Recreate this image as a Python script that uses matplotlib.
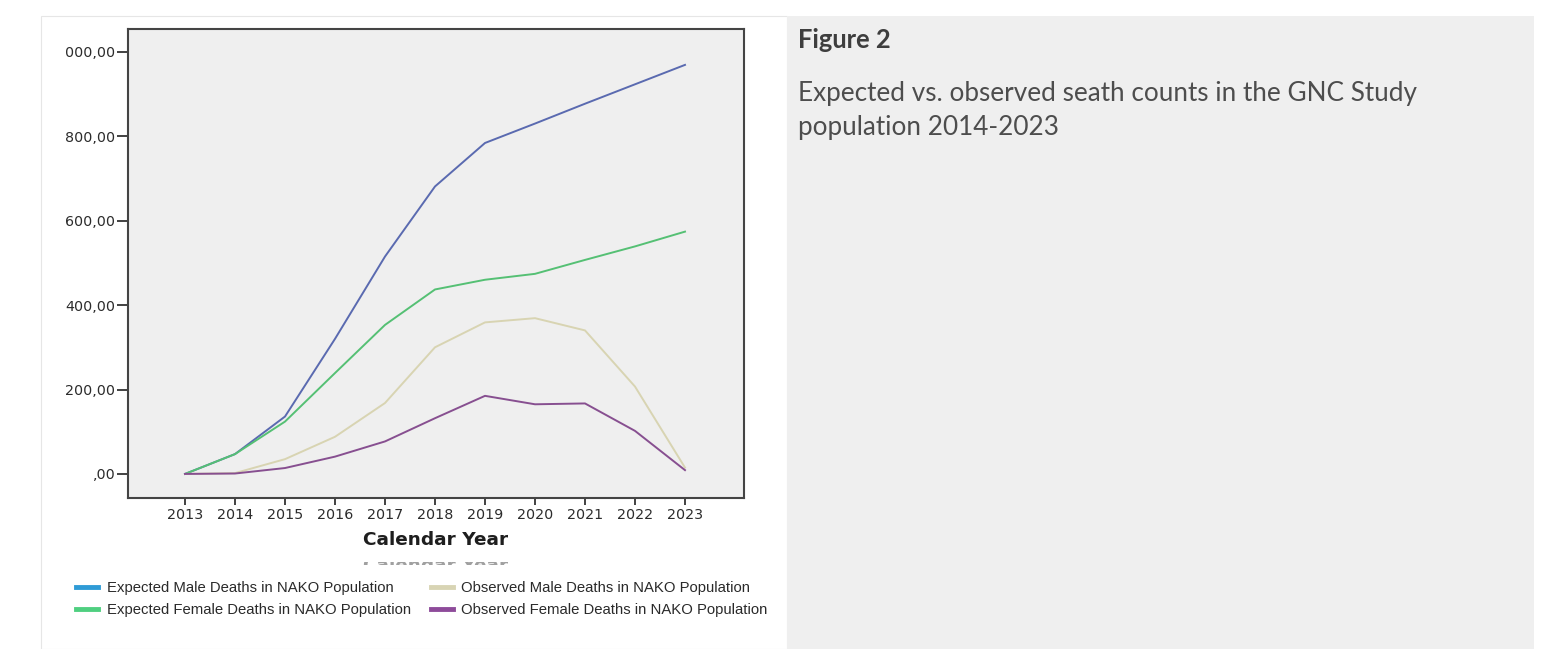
import matplotlib
matplotlib.use("Agg")
import matplotlib.pyplot as plt
from matplotlib.patches import Rectangle
from matplotlib.lines import Line2D

# ── data ──────────────────────────────────────────────────────────────────
years = [2013, 2014, 2015, 2016, 2017, 2018, 2019, 2020, 2021, 2022, 2023]

exp_male   = [0, 47, 136, 320, 515, 681, 784, 830, 877, 923, 969]
exp_female = [0, 47, 124, 239, 353, 437, 460, 474, 507, 539, 574]
obs_male   = [0, 2, 35, 88, 168, 300, 359, 369, 340, 207, 15]
obs_female = [0, 1, 14, 41, 77, 132, 185, 165, 167, 102, 9]

series_labels = [
    "Expected Male Deaths in NAKO Population",
    "Expected Female Deaths in NAKO Population",
    "Observed Male Deaths in NAKO Population",
    "Observed Female Deaths in NAKO Population",
]

y_ticks = [0, 200, 400, 600, 800, 1000]
y_tick_labels = [",00", "200,00", "400,00", "600,00", "800,00", "000,00"]

fig_title = "Figure 2"
caption_lines = ["Expected vs. observed seath counts in the GNC Study",
                 "population 2014-2023"]

# line colours in the plot and (brighter) colours in the legend
LINE_COLORS   = ["#5a6ab0", "#55c074", "#d8d4b2", "#874f90"]
LEGEND_COLORS = ["#2f9bd6", "#4fcf80", "#d8d4b4", "#8e4b9a"]

W, H = 1547, 649


def fx(x):
    return x / W


def fy(y):
    return 1 - y / H


fig = plt.figure(figsize=(W / 100, H / 100), dpi=100)
fig.patch.set_facecolor("white")

# panels (behind everything)
fig.patches.append(Rectangle((fx(41), 0), fx(787) - fx(41), fy(16),
                             transform=fig.transFigure, facecolor="white",
                             edgecolor="#e6e6e6", linewidth=0.8, zorder=-5))
fig.patches.append(Rectangle((fx(787), 0), fx(1534) - fx(787), fy(16),
                             transform=fig.transFigure, facecolor="#efefef",
                             edgecolor="none", zorder=-5))

# ── chart ────────────────────────────────────────────────────────────────
ax = fig.add_axes([fx(128), fy(498), fx(744) - fx(128), fy(29) - fy(498)])
ax.set_zorder(2)
ax.set_facecolor("#efefef")

for vals, col in zip([exp_male, exp_female, obs_male, obs_female], LINE_COLORS):
    ax.plot(years, vals, color=col, linewidth=1.4, solid_joinstyle="round")

ax.set_xlim(2011.86, 2024.18)
ax.set_ylim(-57, 1054)
ax.set_xticks(years)
ax.set_xticklabels([str(y) for y in years])
ax.set_yticks(y_ticks)
ax.set_yticklabels(y_tick_labels)
ax.tick_params(axis="y", length=8, width=1.3, color="#333333", pad=1,
               labelsize=10.3, labelcolor="#2c2c2c")
ax.tick_params(axis="x", length=5, width=1.3, color="#333333", pad=2.5,
               labelsize=10.3, labelcolor="#2c2c2c")
for lab in ax.get_xticklabels() + ax.get_yticklabels():
    lab.set_family("DejaVu Sans")
for sp in ax.spines.values():
    sp.set_color("#444444")
    sp.set_linewidth(1.5)

fig.text(fx(436), fy(540), "Calendar Year", ha="center", va="center",
         family="DejaVu Sans", fontweight="bold", fontsize=13.3,
         color="#1e1e1e")

# cut-off copy of the axis title (artefact in the original image)
ghost = fig.text(fx(436), fy(557), "Calendar Year", ha="center", va="top",
                 family="DejaVu Sans", fontweight="bold", fontsize=13.3,
                 color="#a0a0a0")
clip = Rectangle((fx(300), fy(565)), fx(600) - fx(300), fy(562) - fy(565),
                 transform=fig.transFigure, visible=False)
fig.patches.append(clip)
ghost.set_clip_path(clip)
ghost.set_clip_on(True)

handles = [Line2D([], [], color=c, linewidth=3.5) for c in LEGEND_COLORS]
fig.legend(handles, series_labels, loc="upper left",
           bbox_to_anchor=(fx(76), fy(581)), ncol=2, frameon=False,
           prop={"family": "Liberation Sans", "size": 10.75},
           labelcolor="#2a2a2a", handlelength=1.45, handletextpad=0.6,
           columnspacing=1.35, labelspacing=0.55, borderpad=0,
           borderaxespad=0)

# ── caption panel ───────────────────────────────────────────────────────
fig.text(fx(798), fy(48), fig_title, ha="left", va="baseline",
         family="Lato", fontweight="bold", fontsize=18.4, color="#3e3e3e")
fig.text(fx(798), fy(101), caption_lines[0], ha="left", va="baseline",
         family="Lato", fontsize=18.8, color="#4d4d4d")
fig.text(fx(798), fy(135), caption_lines[1], ha="left", va="baseline",
         family="Lato", fontsize=18.8, color="#4d4d4d")

fig.savefig("out.png", dpi=100, facecolor="white")
